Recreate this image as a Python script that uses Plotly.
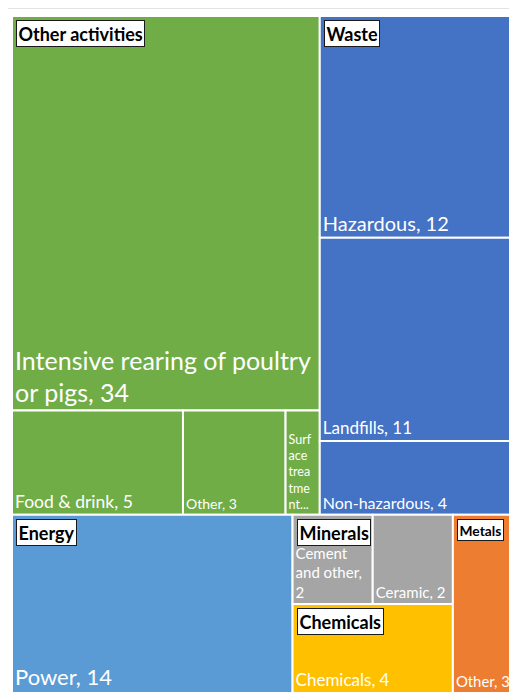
import plotly.graph_objects as go

# ---- data ----
groups = ["Other activities", "Waste", "Energy", "Minerals", "Chemicals", "Metals"]
group_colors = ["#70AD47", "#4472C4", "#5B9BD5", "#A5A5A5", "#FFC000", "#ED7D31"]

leaf_parents = ["Other activities", "Other activities", "Other activities", "Other activities",
                "Waste", "Waste", "Waste",
                "Energy",
                "Minerals", "Minerals",
                "Chemicals",
                "Metals"]
leaf_labels = ["Intensive rearing of poultry or pigs", "Food & drink", "Other", "Surface treatment",
               "Hazardous", "Landfills", "Non-hazardous",
               "Power",
               "Cement and other", "Ceramic",
               "Chemicals",
               "Other"]
leaf_values = [34, 5, 3, 1,
               12, 11, 4,
               14,
               2, 2,
               4,
               3]
# displayed leaf text (wrapped as in the original)
leaf_text = ["Intensive rearing of poultry<br>or pigs, 34", "Food & drink, 5", "Other, 3",
             "Surf<br>ace<br>trea<br>tme<br>nt...",
             "Hazardous, 12", "Landfills, 11", "Non-hazardous, 4",
             "Power, 14",
             "Cement<br>and other,<br>2", "Ceramic, 2",
             "Chemicals, 4",
             "Other, 3"]

# ---- styles ----
leaf_font_sizes = [25, 17.5, 14, 12.5, 20, 17, 16, 22, 15, 15, 17, 15]
header_font_size = 18
FONT = "Lato, 'Open Sans', sans-serif"
SQUARIFY_RATIO = 1.618

# ---- build hierarchy ----
group_values = [sum(v for p, v in zip(leaf_parents, leaf_values) if p == g) for g in groups]
ids, labels, parents, values, colors, texts, sizes = [], [], [], [], [], [], []
for g, c, gv in zip(groups, group_colors, group_values):
    ids.append(g); labels.append(g); parents.append(""); values.append(gv)
    colors.append(c); texts.append(""); sizes.append(header_font_size)
for p, l, v, t, s in zip(leaf_parents, leaf_labels, leaf_values, leaf_text, leaf_font_sizes):
    ids.append(p + "/" + l); labels.append(l); parents.append(p); values.append(v)
    colors.append(group_colors[groups.index(p)]); texts.append(t); sizes.append(s)

# the page body adds an 8px offset
W, H = 509, 685
ml, mr, mt, mb = 4, 4, 8, 0
pw, ph = W - ml - mr, H - mt - mb

fig = go.Figure(go.Treemap(
    ids=ids, labels=labels, parents=parents, values=values,
    branchvalues="total", sort=True,
    tiling=dict(packing="squarify", squarifyratio=SQUARIFY_RATIO, pad=0),
    pathbar=dict(visible=False),
    textinfo="text", text=texts,
    textposition="bottom left",
    textfont=dict(family=FONT, size=sizes, color="white"),
    marker=dict(colors=colors, line=dict(color="white", width=2),
                pad=dict(t=0, l=0, r=0, b=0)),
    root=dict(color="white"),
    hovertemplate="%{label}: %{value}<extra></extra>",
))


# ---- group title boxes: same squarified tiling as the treemap (top level) ----
def squarify(vals, x0, y0, x1, y1, ratio):
    out = [None] * len(vals)
    order = sorted(range(len(vals)), key=lambda i: -vals[i])
    nodes = [vals[i] for i in order]
    n = len(nodes)
    value = float(sum(nodes))
    i0 = i1 = 0
    while i0 < n:
        dx, dy = x1 - x0, y1 - y0
        s = nodes[i1]; i1 += 1
        mn = mx = s
        alpha = max(dy / dx, dx / dy) / (value * ratio)
        beta = s * s * alpha
        min_ratio = max(mx / beta, beta / mn)
        while i1 < n:
            nv = nodes[i1]
            s += nv
            mn, mx = min(mn, nv), max(mx, nv)
            beta = s * s * alpha
            new_ratio = max(mx / beta, beta / mn)
            if new_ratio > min_ratio:
                s -= nv
                break
            min_ratio = new_ratio
            i1 += 1
        row = list(range(i0, i1))
        if dx < dy:  # dice: row across the top
            yk = y0 + dy * s / value
            xc = x0
            for k in row:
                w = dx * nodes[k] / s
                out[order[k]] = (xc, y0, xc + w, yk)
                xc += w
            y0 = yk
        else:        # slice: column on the left
            xk = x0 + dx * s / value
            yc = y0
            for k in row:
                h = dy * nodes[k] / s
                out[order[k]] = (x0, yc, xk, yc + h)
                yc += h
            x0 = xk
        value -= s
        i0 = i1
    return out


rects = squarify(group_values, 0, 0, pw, ph, SQUARIFY_RATIO)
for g, (gx0, gy0, gx1, gy1) in zip(groups, rects):
    # shrink a title that would not fit in a narrow tile
    approx_w = 0.58 * header_font_size * len(g)
    fsize = header_font_size if approx_w <= (gx1 - gx0) - 12 else \
        ((gx1 - gx0) - 12) / (0.58 * len(g))
    fig.add_annotation(
        xref="paper", yref="paper",
        x=gx0 / pw, y=1 - gy0 / ph,
        xanchor="left", yanchor="top", xshift=4, yshift=-4,
        text="<b>" + g + "</b>", showarrow=False,
        font=dict(family=FONT, size=fsize, color="black"),
        bgcolor="white", bordercolor="#1a1a1a", borderwidth=1, borderpad=1.5,
    )

fig.update_layout(
    width=W, height=H,
    margin=dict(l=ml, r=mr, t=mt, b=mb),
    paper_bgcolor="white",
    showlegend=False,
    shapes=[dict(type="line", xref="paper", yref="paper",
                 x0=-ml / pw, x1=(W - ml) / pw,
                 y0=1 + (mt - 0.5) / ph, y1=1 + (mt - 0.5) / ph,
                 line=dict(color="#E3E3E3", width=1), layer="below")],
)
fig.write_html("out.html")
